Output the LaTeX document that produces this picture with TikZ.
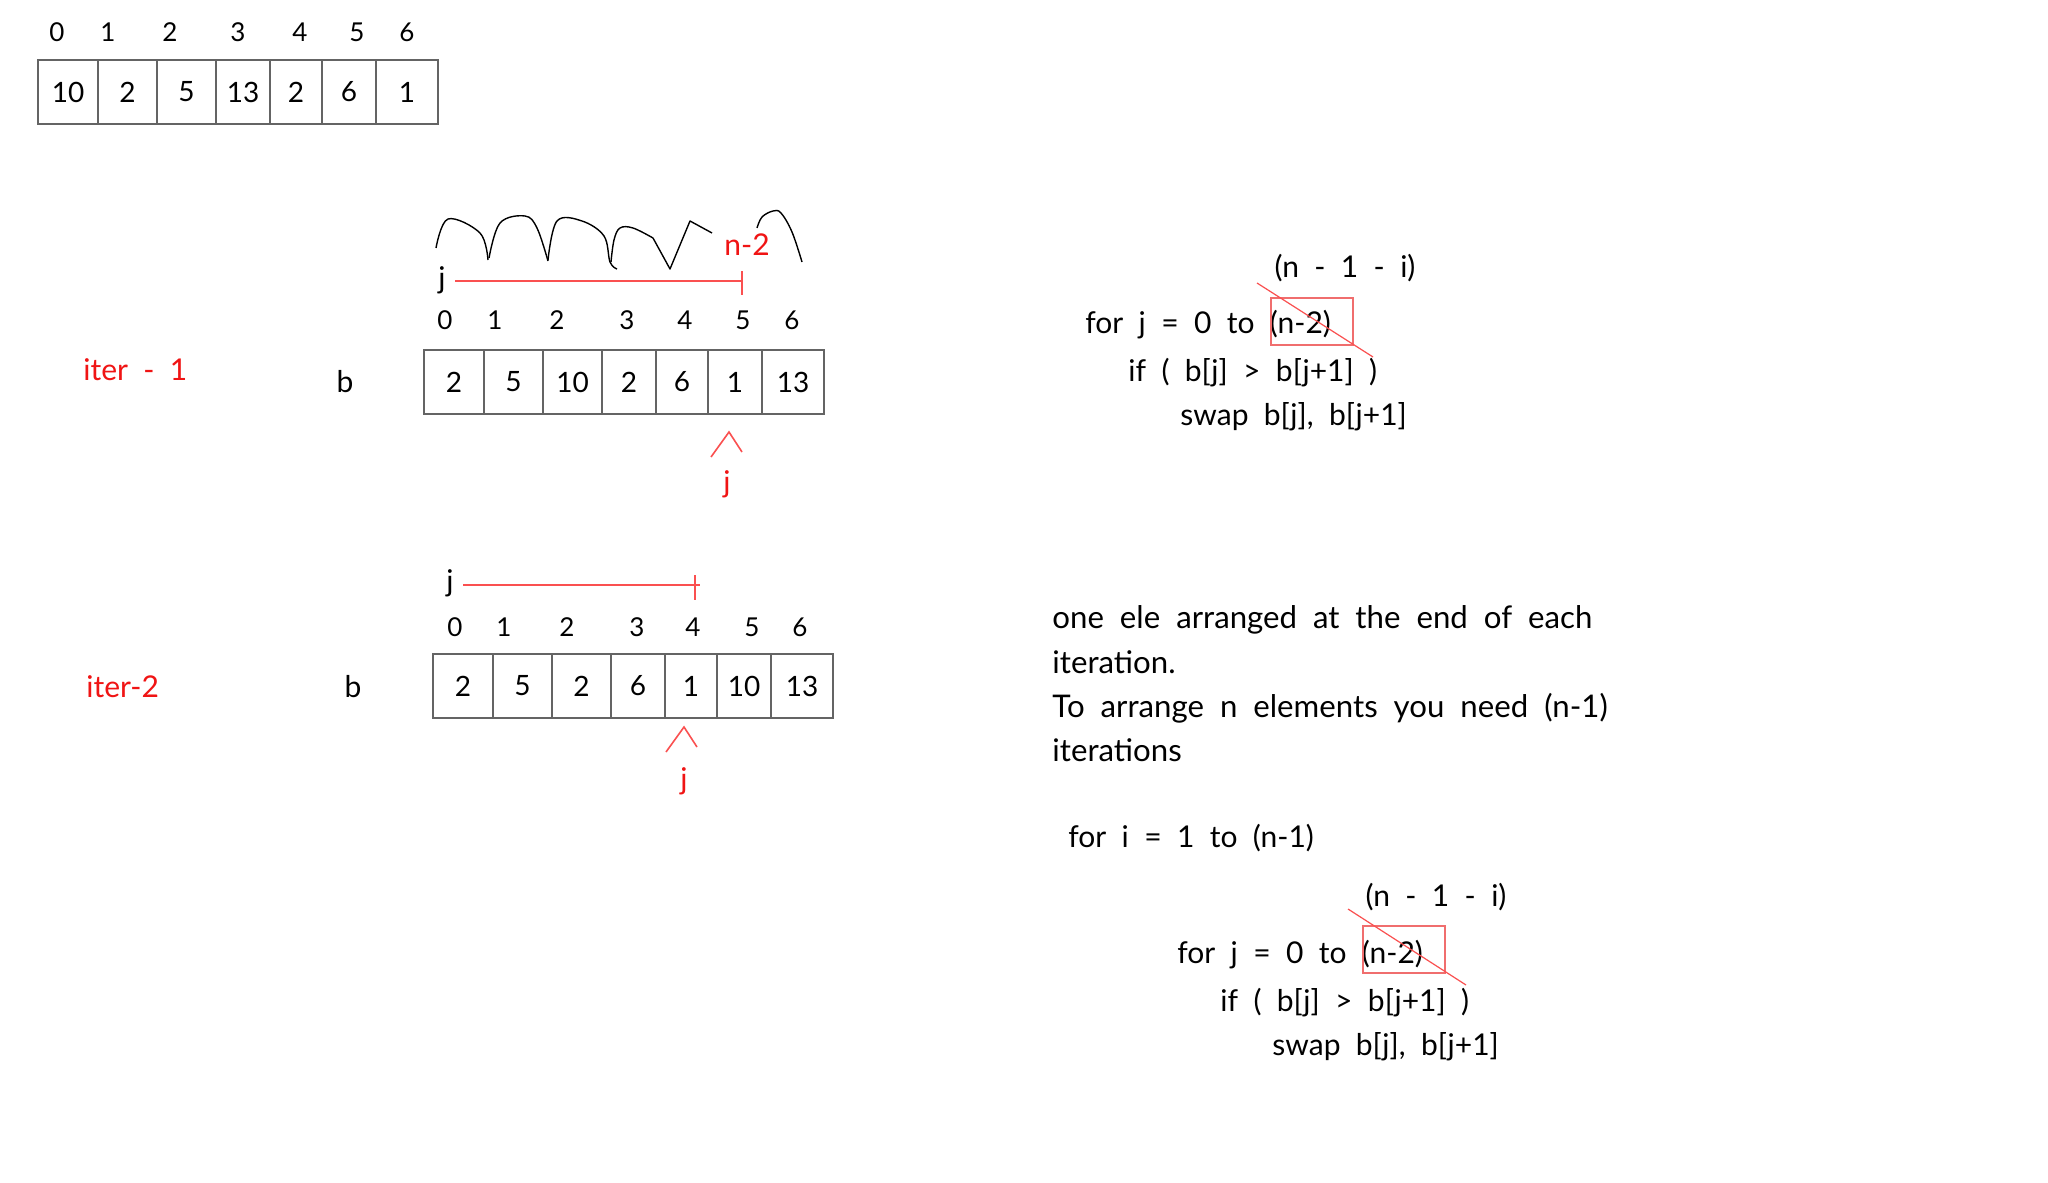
\documentclass[tikz,border=0pt]{standalone}
\usepackage{fontspec}
\setmainfont{Lato}[WordSpace=2]
\usetikzlibrary{calc}
\definecolor{redtxt}{RGB}{240,20,20}
\definecolor{redln}{RGB}{250,80,80}
\definecolor{redbox}{RGB}{240,110,110}
\definecolor{cellln}{RGB}{100,100,100}
\begin{document}
\begin{tikzpicture}[x=0.5pt,y=-0.5pt,
  cell/.style={draw=cellln,line width=0.8pt,inner sep=0pt,minimum height=32pt,font=\fontsize{14}{17}\selectfont},
  idx/.style={inner sep=0pt,font=\fontsize{13}{15}\selectfont},
  code/.style={inner sep=0pt,anchor=west,font=\fontsize{15}{18}\selectfont},
  note/.style={inner sep=0pt,anchor=west,font=\fontsize{15.6}{18}\selectfont},
  redlab/.style={inner sep=0pt,text=redtxt,font=\fontsize{15}{18}\selectfont},
  redline/.style={draw=redln,line width=0.8pt},
  scrib/.style={draw=black,line width=0.7pt,line join=round}]
\path[use as bounding box,fill=white] (0,0) rectangle (2048,1182);

% ---------- top array ----------
\foreach \l/\r/\v [count=\i] in {38/98/10,98/157/2,157/216/5,216/270/13,270/322/2,322/376/6,376/438/1}
  \node[cell,minimum width={(\r-\l)*0.5pt}] (t\i) at ({(\l+\r)/2},92) {\v};
\foreach \x/\n [count=\i] in {57/0,108/1,170/2,238/3,300/4,357/5,407/6}
  \node[idx] (ti\i) at (\x,32) {\n};

% ---------- iter 1 ----------
\node[redlab,anchor=west] (it1) at (83,370) {iter - 1};
\node[idx,font=\fontsize{15}{18}\selectfont] (b1) at (345,382) {b};
\foreach \l/\r/\v [count=\i] in {424/484/2,484/543/5,543/602/10,602/656/2,656/708/6,708/762/1,762/824/13}
  \node[cell,minimum width={(\r-\l)*0.5pt}] (a\i) at ({(\l+\r)/2},382) {\v};
\foreach \x/\n [count=\i] in {445/0,495/1,557/2,627/3,685/4,743/5,792/6}
  \node[idx] (ai\i) at (\x,320) {\n};
\node[idx,font=\fontsize{15}{18}\selectfont] (j1) at (442,280) {j};
\coordinate (r1s) at (455,281);
\coordinate (r1e) at (742,281);
\draw[redline] (r1s) -- (r1e);
\draw[redline] ($(r1e)+(0,-10)$) -- ($(r1e)+(0,14)$);
\node[redlab] (n2) at (747,245) {n-2};
% scribble arcs
\draw[scrib] plot[smooth,tension=0.6] coordinates {(436,248) (448,219) (480,233) (488,260)};
\draw[scrib] plot[smooth,tension=0.6] coordinates {(489,258) (500,223) (525,216) (537,228) (548,261)};
\draw[scrib] plot[smooth,tension=0.6] coordinates {(548,260) (557,221) (582,221) (604,236) (610,262) (617,269)};
\draw[scrib] plot[smooth,tension=0.6] coordinates {(611,262) (614,240) (620,228) (633,228) (653,238)};
\draw[scrib] (653,238) -- (670,269) -- (690,221) -- (712,233);
\draw[scrib] plot[smooth,tension=0.6] coordinates {(757,228) (762,217) (773,211) (781,213) (792,232) (802,262)};
% caret
\coordinate (c1a) at (711,457);
\coordinate (c1b) at (729,432);
\coordinate (c1c) at (742,452);
\draw[redline] (c1a) -- (c1b) -- (c1c);
\node[redlab] (jr1) at (727,484) {j};

% ---------- iter 2 ----------
\node[redlab,anchor=west] (it2) at (86,687) {iter-2};
\node[idx,font=\fontsize{15}{18}\selectfont] (b2) at (353,687) {b};
\foreach \l/\r/\v [count=\i] in {433/493/2,493/552/5,552/611/2,611/665/6,665/717/1,717/771/10,771/833/13}
  \node[cell,minimum width={(\r-\l)*0.5pt}] (c\i) at ({(\l+\r)/2},686) {\v};
\foreach \x/\n [count=\i] in {455/0,504/1,567/2,637/3,693/4,752/5,800/6}
  \node[idx] (ci\i) at (\x,627) {\n};
\node[idx,font=\fontsize{15}{18}\selectfont] (j2) at (450,583) {j};
\coordinate (r2s) at (463,585);
\coordinate (r2e) at (700,585);
\draw[redline] (r2s) -- (r2e);
\draw[redline] (695,575) -- (695,600);
\coordinate (c2a) at (666,752);
\coordinate (c2b) at (684,727);
\coordinate (c2c) at (697,747);
\draw[redline] (c2a) -- (c2b) -- (c2c);
\node[redlab] (jr2) at (684,781) {j};

% ---------- code block 1 ----------
\node[code,anchor=center] (p1) at (1345,268) {(n - 1 - i)};
\node[code] (f1) at (1085,325) {for j = 0 to (n-2)};
\node[code] (if1) at (1128,373) {if ( b[j] > b[j+1] )};
\node[code] (sw1) at (1180,417) {swap b[j], b[j+1]};
\draw[draw=redbox,line width=0.9pt] (1271,298) rectangle (1353,345);
\draw[redline,line width=0.6pt] (1257,283) -- (1373,357);

% ---------- explanation ----------
\node[note] (e1) at (1052,620) {one ele arranged at the end of each};
\node[note] (e2) at (1052,662) {iteration.};
\node[note] (e3) at (1052,708) {To arrange n elements you need (n-1)};
\node[note] (e4) at (1052,750) {iterations};

% ---------- code block 2 ----------
\node[code] (fi) at (1068,838) {for i = 1 to (n-1)};
\node[code,anchor=center] (p2) at (1436,897) {(n - 1 - i)};
\node[code] (f2) at (1177,955) {for j = 0 to (n-2)};
\node[code] (if2) at (1220,1003) {if ( b[j] > b[j+1] )};
\node[code] (sw2) at (1272,1047) {swap b[j], b[j+1]};
\draw[draw=redbox,line width=0.9pt] (1363,926) rectangle (1445,973);
\draw[redline,line width=0.6pt] (1348,909) -- (1466,985);
\end{tikzpicture}
\end{document}
